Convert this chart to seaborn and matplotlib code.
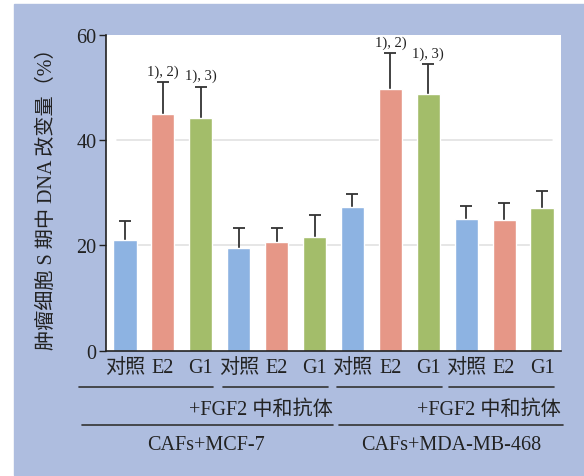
import numpy as np
import pandas as pd
import seaborn as sns
import matplotlib.pyplot as plt
from matplotlib.lines import Line2D
from matplotlib.patches import Rectangle

# data
treatments = ['对照', 'E2', 'G1'] * 4
means = [21.1, 44.9, 44.3, 19.6, 20.7, 21.7, 27.4, 49.8, 48.8, 25.1, 24.9, 27.2]
sds = [3.5, 6.1, 5.9, 3.7, 2.7, 4.0, 2.3, 6.8, 5.7, 2.4, 3.1, 3.1]
marks = ['', '1), 2)', '1), 3)', '', '', '', '', '1), 2)', '1), 3)', '', '', '']
y_ticks = [0, 20, 40, 60]
antibody_label = '+FGF2 中和抗体'
cell_lines = ['CAFs+MCF-7', 'CAFs+MDA-MB-468']
ylabel = '肿瘤细胞 S 期中 DNA 改变量（%）'

sns.set_style('white')
plt.rcParams['font.family'] = ['Liberation Serif', 'Noto Sans CJK SC']

W, H = 584, 477
fig = plt.figure(figsize=(W / 100, H / 100), dpi=100)
fig.patch.set_facecolor('white')


def px(x, y):
    return x / W, 1 - y / H


# blue frame behind everything
fig.patches.append(Rectangle(px(14, 476), (W - 14) / W, (476 - 5) / H,
                             transform=fig.transFigure, color='#AEBDDF', zorder=-5))

ax = fig.add_axes([106 / W, 1 - 351.7 / H, 455 / W, (351.7 - 36) / H])
ax.set_zorder(2)
ax.set_facecolor('white')

df = pd.DataFrame({'cat': [f'{t}_{i}' for i, t in enumerate(treatments)],
                   'val': means})
palette = ['#8DB3E2', '#E69787', '#A3BD6A'] * 4
sns.barplot(data=df, x='cat', y='val', hue='cat', palette=palette, legend=False,
            width=0.61, saturation=1, errorbar=None, ax=ax, zorder=2)

# error bars sit behind the bars so only the upper half shows
xs = np.arange(len(means))
ax.errorbar(xs, means, yerr=sds, fmt='none',
            ecolor='#333333', elinewidth=1.3, capsize=4.2, capthick=1.3, zorder=1.8)

for i, (m, s, t) in enumerate(zip(means, sds, marks)):
    if t:
        ax.annotate(t, (i, m + s), xytext=(0, 3), textcoords='offset points',
                    ha='center', va='bottom', fontsize=10.5, color='#222222')

for g in [20, 40]:
    ax.axhline(g, xmin=0.024, xmax=0.98, color='#E2E2E2', lw=1.2, zorder=1)

ax.set_ylim(0, 60)
ax.set_xlim(-0.5, len(means) - 0.5)
ax.set_yticks(y_ticks)
ax.set_xticks(xs)
ax.set_xticklabels(treatments)
ax.set_xticks(np.arange(-0.5, len(means)), minor=True)
ax.tick_params(axis='x', which='major', length=0, pad=5, labelsize=14.5, colors='#222222')
ax.tick_params(axis='x', which='minor', length=5, width=1, color='#222222', direction='out')
ax.tick_params(axis='y', length=5, width=1, pad=2, labelsize=14.5, colors='#222222',
               direction='out', left=True)
ax.set_xlabel('')
ax.set_ylabel(ylabel, fontsize=14.5, color='#222222', labelpad=14)
for side in ['top', 'right']:
    ax.spines[side].set_visible(False)
for side in ['left', 'bottom']:
    ax.spines[side].set_color('#222222')
    ax.spines[side].set_linewidth(1.2)

# group brackets under the axis
for x0, x1 in [(79, 213), (223, 328), (337, 442), (449, 554)]:
    fig.add_artist(Line2D([x0 / W, x1 / W], [1 - 387.7 / H] * 2, color='#333333', lw=1.2))
for x0, x1 in [(82, 333), (339, 563)]:
    fig.add_artist(Line2D([x0 / W, x1 / W], [1 - 426 / H] * 2, color='#333333', lw=1.2))

for xr in [333, 561]:
    fig.text(*px(xr, 410), antibody_label, ha='right', va='center', fontsize=14.5, color='#222222')
for xc, name in zip([206, 451], cell_lines):
    fig.text(*px(xc, 446), name, ha='center', va='center', fontsize=14.5, color='#222222')

fig.savefig('out.png', dpi=100, facecolor=fig.get_facecolor())
